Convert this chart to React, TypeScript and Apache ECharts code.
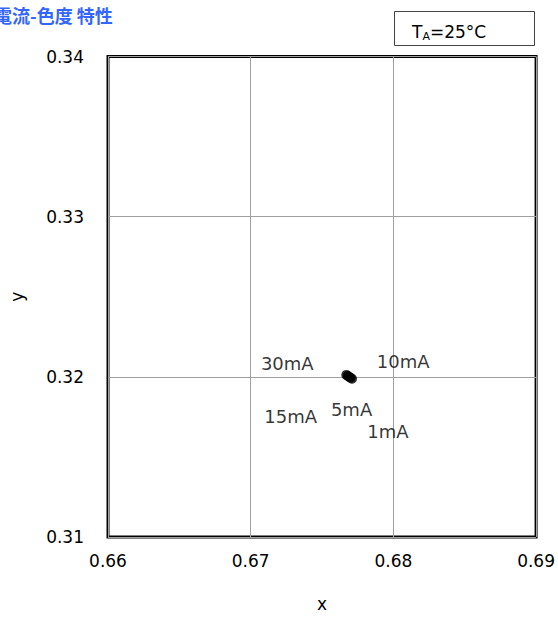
import React, { useEffect, useRef } from "react";
import * as echarts from "echarts";

const currents = ["1mA", "5mA", "10mA", "15mA", "30mA"];
const xValues = [0.6771, 0.677, 0.6769, 0.6768, 0.6767];
const yValues = [0.31988, 0.31994, 0.32, 0.32006, 0.32012];
const labelOffsets: [number, number][] = [
  [36, 53],
  [1, 32],
  [54, -15],
  [-57, 41],
  [-59, -11],
];
const xTicks = [0.66, 0.67, 0.68, 0.69];
const yTicks = [0.31, 0.32, 0.33, 0.34];

const FONT = "DejaVu Sans, Verdana, sans-serif";

export default function App() {
  const ref = useRef<HTMLDivElement>(null);
  useEffect(() => {
    document.body.style.margin = "0";
    document.body.style.overflow = "hidden";
    if (!ref.current) return;
    const chart = echarts.init(ref.current, undefined, { renderer: "svg" });
    const data = currents.map((c, i) => ({
      value: [xValues[i], yValues[i]],
      name: c,
      label: {
        show: true,
        formatter: c,
        position: "inside",
        offset: labelOffsets[i],
        color: "#000",
        fontSize: 18,
        fontFamily: FONT,
      },
    }));
    chart.setOption({
      animation: false,
      backgroundColor: "#fff",
      grid: {
        left: 106.5,
        right: 21,
        top: 56.5,
        bottom: 74,
        show: true,
        borderColor: "#000",
        borderWidth: 3,
        backgroundColor: "transparent",
      },
      xAxis: {
        type: "value",
        min: xTicks[0],
        max: xTicks[xTicks.length - 1],
        interval: 0.01,
        name: "x",
        nameLocation: "middle",
        nameGap: 58,
        nameTextStyle: { fontSize: 17, fontFamily: FONT, color: "#000" },
        axisLine: { show: false },
        axisTick: { show: false },
        axisLabel: {
          margin: 15,
          fontSize: 17,
          fontFamily: FONT,
          color: "#000",
          formatter: (v: number) => v.toFixed(2),
        },
        splitLine: { show: true, lineStyle: { color: "#a0a0a0", width: 1 } },
      },
      yAxis: {
        type: "value",
        min: yTicks[0],
        max: yTicks[yTicks.length - 1],
        interval: 0.01,
        name: "y",
        nameLocation: "middle",
        nameGap: 83,
        nameTextStyle: { fontSize: 17, fontFamily: FONT, color: "#000" },
        axisLine: { show: false },
        axisTick: { show: false },
        axisLabel: {
          margin: 24,
          fontSize: 17,
          fontFamily: FONT,
          color: "#000",
          formatter: (v: number) => v.toFixed(2),
        },
        splitLine: { show: true, lineStyle: { color: "#a0a0a0", width: 1 } },
      },
      graphic: [
        {
          type: "text",
          x: -6,
          y: 6,
          style: {
            text: "電流-色度 特性",
            fill: "#3366ff",
            font: "bold 18px 'Noto Sans CJK JP', sans-serif",
            textVerticalAlign: "top",
          },
        },
        {
          type: "rect",
          shape: { x: 394.5, y: 11.5, width: 140, height: 34 },
          style: { fill: "#fff", stroke: "#444", lineWidth: 1 },
        },
        {
          type: "text",
          x: 412,
          y: 21,
          style: {
            text: "{t|T}{s|A}{t|=25°C}",
            rich: {
              t: { fontSize: 17, fontFamily: FONT, fill: "#000" },
              s: { fontSize: 11, fontFamily: FONT, fill: "#000", padding: [10, 0, 0, 0] },
            },
          },
        },
      ],
      series: [
        {
          type: "scatter",
          symbol: "circle",
          symbolSize: 10,
          itemStyle: { color: "#000" },
          data,
        },
      ],
    });
    return () => chart.dispose();
  }, []);
  return (
    <div
      ref={ref}
      style={{ position: "fixed", left: 0, top: 0, width: 558, height: 617 }}
    />
  );
}
